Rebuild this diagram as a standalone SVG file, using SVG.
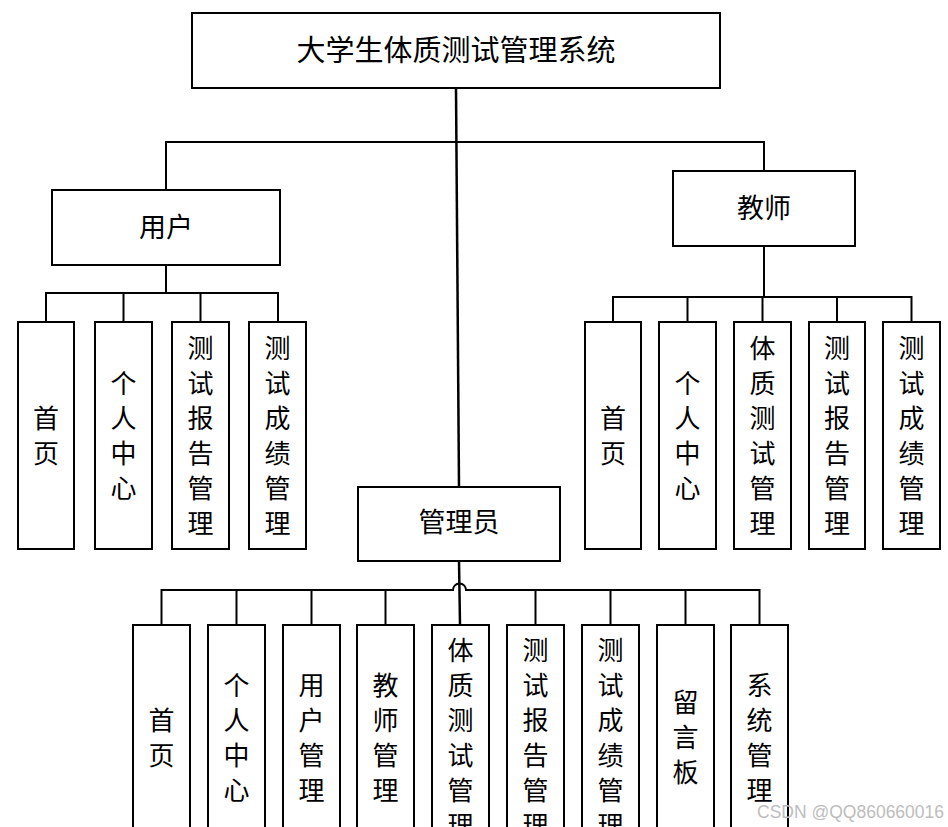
<svg xmlns="http://www.w3.org/2000/svg" width="948" height="827" viewBox="0 0 948 827">
<style>
.box{fill:#fff;stroke:#000;stroke-width:2}
.ln{fill:none;stroke:#000;stroke-width:2}
.t{font-family:"Noto Sans CJK SC","Noto Sans CJK JP",sans-serif;font-size:26px;fill:#000;text-anchor:middle;dominant-baseline:central;transform:translate(0px,-2px)}
.h{font-size:27px}
.wm{font-family:"Liberation Sans",Arial,sans-serif;font-size:17.5px;fill:#bdbdbd;text-anchor:start}
</style>
<rect width="948" height="827" fill="#fff"/>
<g id="connectors">
<line class="ln" x1="456" y1="88" x2="459" y2="487" style="stroke-width:2.5"/>
<path class="ln" d="M166 190 V142 H764 V171"/>
<path class="ln" d="M166 265 V293 M46 322 V293 H278 V322 M123.5 293 V322 M200.5 293 V322"/>
<path class="ln" d="M764 246 V297 M613 322 V297 H911.5 V322 M687.5 297 V322 M762.5 297 V322 M837 297 V322"/>
<path class="ln" d="M459 561 L460 625" style="stroke-width:2.5"/>
<path class="ln" d="M161.5 625 V590 H453 A6.5 6.5 0 0 1 466 590 H759.5 V625 M236.5 590 V625 M311.5 590 V625 M385.5 590 V625 M535.5 590 V625 M610.5 590 V625 M685.5 590 V625"/>
</g>
<g id="root"><rect class="box" x="192" y="13" width="528" height="75"/><text class="t" x="456" y="50" style="font-size:29px">大学生体质测试管理系统</text></g>
<g id="user"><rect class="box" x="52" y="190" width="228" height="75"/><text class="t h" x="166" y="227">用户</text></g>
<g id="teacher"><rect class="box" x="673" y="171" width="182" height="75"/><text class="t h" x="764" y="208">教师</text></g>
<g id="admin"><rect class="box" x="358" y="487" width="202" height="74"/><text class="t h" x="459" y="522">管理员</text></g>

<g id="u1"><rect class="box" x="18" y="322" width="56" height="227"/><text class="t"><tspan x="46" y="418">首</tspan><tspan x="46" y="453">页</tspan></text></g>
<g id="u2"><rect class="box" x="95" y="322" width="57" height="227"/><text class="t"><tspan x="123.5" y="383">个</tspan><tspan x="123.5" y="418">人</tspan><tspan x="123.5" y="453">中</tspan><tspan x="123.5" y="488">心</tspan></text></g>
<g id="u3"><rect class="box" x="172" y="322" width="57" height="227"/><text class="t"><tspan x="200.5" y="348">测</tspan><tspan x="200.5" y="383">试</tspan><tspan x="200.5" y="418">报</tspan><tspan x="200.5" y="453">告</tspan><tspan x="200.5" y="488">管</tspan><tspan x="200.5" y="523">理</tspan></text></g>
<g id="u4"><rect class="box" x="249" y="322" width="57" height="227"/><text class="t"><tspan x="277.5" y="348">测</tspan><tspan x="277.5" y="383">试</tspan><tspan x="277.5" y="418">成</tspan><tspan x="277.5" y="453">绩</tspan><tspan x="277.5" y="488">管</tspan><tspan x="277.5" y="523">理</tspan></text></g>

<g id="t1"><rect class="box" x="585" y="322" width="56" height="227"/><text class="t"><tspan x="613" y="418">首</tspan><tspan x="613" y="453">页</tspan></text></g>
<g id="t2"><rect class="box" x="659" y="322" width="57" height="227"/><text class="t"><tspan x="687.5" y="383">个</tspan><tspan x="687.5" y="418">人</tspan><tspan x="687.5" y="453">中</tspan><tspan x="687.5" y="488">心</tspan></text></g>
<g id="t3"><rect class="box" x="734" y="322" width="57" height="227"/><text class="t"><tspan x="762.5" y="348">体</tspan><tspan x="762.5" y="383">质</tspan><tspan x="762.5" y="418">测</tspan><tspan x="762.5" y="453">试</tspan><tspan x="762.5" y="488">管</tspan><tspan x="762.5" y="523">理</tspan></text></g>
<g id="t4"><rect class="box" x="809" y="322" width="56" height="227"/><text class="t"><tspan x="837" y="348">测</tspan><tspan x="837" y="383">试</tspan><tspan x="837" y="418">报</tspan><tspan x="837" y="453">告</tspan><tspan x="837" y="488">管</tspan><tspan x="837" y="523">理</tspan></text></g>
<g id="t5"><rect class="box" x="883" y="322" width="57" height="227"/><text class="t"><tspan x="911.5" y="348">测</tspan><tspan x="911.5" y="383">试</tspan><tspan x="911.5" y="418">成</tspan><tspan x="911.5" y="453">绩</tspan><tspan x="911.5" y="488">管</tspan><tspan x="911.5" y="523">理</tspan></text></g>

<g id="a1"><rect class="box" x="133" y="625" width="57" height="227"/><text class="t"><tspan x="161.5" y="720">首</tspan><tspan x="161.5" y="755">页</tspan></text></g>
<g id="a2"><rect class="box" x="208" y="625" width="57" height="227"/><text class="t"><tspan x="236.5" y="685">个</tspan><tspan x="236.5" y="720">人</tspan><tspan x="236.5" y="755">中</tspan><tspan x="236.5" y="790">心</tspan></text></g>
<g id="a3"><rect class="box" x="283" y="625" width="57" height="227"/><text class="t"><tspan x="311.5" y="685">用</tspan><tspan x="311.5" y="720">户</tspan><tspan x="311.5" y="755">管</tspan><tspan x="311.5" y="790">理</tspan></text></g>
<g id="a4"><rect class="box" x="357" y="625" width="57" height="227"/><text class="t"><tspan x="385.5" y="685">教</tspan><tspan x="385.5" y="720">师</tspan><tspan x="385.5" y="755">管</tspan><tspan x="385.5" y="790">理</tspan></text></g>
<g id="a5"><rect class="box" x="432" y="625" width="57" height="227"/><text class="t"><tspan x="460.5" y="650">体</tspan><tspan x="460.5" y="685">质</tspan><tspan x="460.5" y="720">测</tspan><tspan x="460.5" y="755">试</tspan><tspan x="460.5" y="790">管</tspan><tspan x="460.5" y="825">理</tspan></text></g>
<g id="a6"><rect class="box" x="507" y="625" width="57" height="227"/><text class="t"><tspan x="535.5" y="650">测</tspan><tspan x="535.5" y="685">试</tspan><tspan x="535.5" y="720">报</tspan><tspan x="535.5" y="755">告</tspan><tspan x="535.5" y="790">管</tspan><tspan x="535.5" y="825">理</tspan></text></g>
<g id="a7"><rect class="box" x="582" y="625" width="57" height="227"/><text class="t"><tspan x="610.5" y="650">测</tspan><tspan x="610.5" y="685">试</tspan><tspan x="610.5" y="720">成</tspan><tspan x="610.5" y="755">绩</tspan><tspan x="610.5" y="790">管</tspan><tspan x="610.5" y="825">理</tspan></text></g>
<g id="a8"><rect class="box" x="657" y="625" width="57" height="227"/><text class="t"><tspan x="685.5" y="702">留</tspan><tspan x="685.5" y="737">言</tspan><tspan x="685.5" y="772">板</tspan></text></g>
<g id="a9"><rect class="box" x="731" y="625" width="57" height="227"/><text class="t"><tspan x="759.5" y="685">系</tspan><tspan x="759.5" y="720">统</tspan><tspan x="759.5" y="755">管</tspan><tspan x="759.5" y="790">理</tspan></text></g>
<text class="wm" x="757" y="818">CSDN @QQ860660016</text>
</svg>
